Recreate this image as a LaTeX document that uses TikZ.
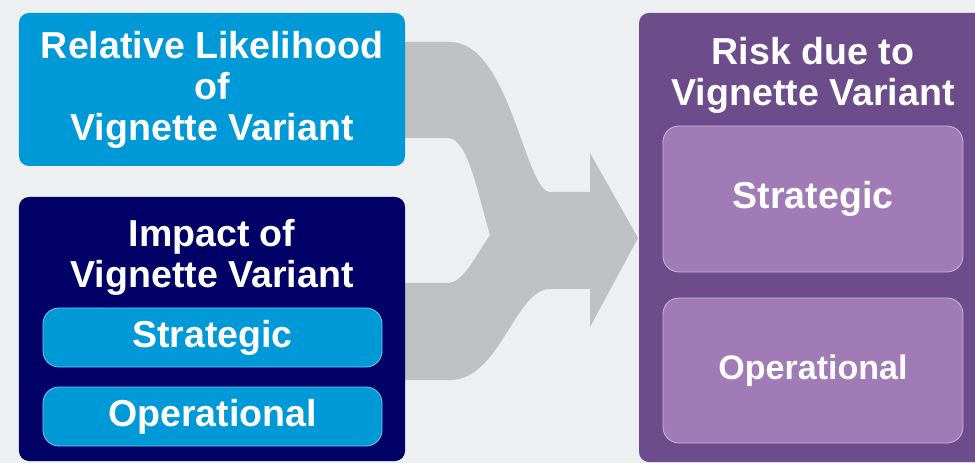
\documentclass[tikz,border=0pt]{standalone}
\usepackage{fontspec}
\setmainfont{Liberation Sans}

\definecolor{pagegray}{HTML}{EEEFF1}
\definecolor{likelyblue}{HTML}{0099D8}
\definecolor{impactnavy}{HTML}{000066}
\definecolor{riskpurple}{HTML}{6C4C8A}
\definecolor{risklilac}{HTML}{A07BB5}
\definecolor{flowgray}{HTML}{BFC0C2}

\begin{document}
\begin{tikzpicture}[x=0.25mm, y=-0.25mm,
        every node/.style={font=\bfseries\fontsize{26.7}{29.2}\selectfont, text=white, align=center},
        bigbox/.style={rounded corners=2.5mm, inner sep=0pt},
        bluebox/.style={fill=likelyblue, draw=likelyblue!55!white, line width=0.6pt, rounded corners=4mm,
            minimum width=84.75mm, minimum height=14.75mm, inner sep=0pt},
        lilacbox/.style={fill=risklilac, draw=risklilac!55!white, line width=0.6pt, rounded corners=4mm,
            minimum width=75mm, inner sep=0pt}]
        % Background
        \fill[pagegray] (0,0) rectangle (975,463);
        \useasboundingbox (0,0) rectangle (975,463);
    
        % Merging arrow
        \fill[flowgray] (400,42) -- (450,42)
            .. controls (510,42) and (525,192) .. (550,192) -- (590,192) -- (590,153)
            -- (638,238) -- (590,327) -- (590,289) -- (550,289)
            .. controls (515,289) and (500,380) .. (450,380) -- (400,380) -- (400,283) -- (447,283)
            .. controls (462,283) and (470,265) .. (490,235)
            .. controls (478,195) and (468,138) .. (448,138) -- (400,138) -- cycle;
    
        % Likelihood
        \node[bigbox, fill=likelyblue, minimum width=96.5mm, minimum height=38.25mm] (likely) at (212,89.5)
            {Relative Likelihood\\of\\Vignette Variant};
    
        % Impact
        \node[bigbox, fill=impactnavy, minimum width=96.5mm, minimum height=66mm] (impact) at (212,329) {};
        \node (impacttitle) at (212,257) {Impact of\\Vignette Variant};
        \node[bluebox] (impactstrat) at (212.5,337.5) {Strategic};
        \node[bluebox] (impactop) at (212.5,416.5) {Operational};
    
        % Risk
        \node[bigbox, fill=riskpurple, minimum width=89mm, minimum height=112.25mm] (risk) at (817,237.5) {};
        \node (risktitle) at (813,75) {Risk due to\\Vignette Variant};
        \node[lilacbox, minimum height=36.5mm] (riskstrat) at (813,199) {Strategic};
        \node[lilacbox, minimum height=36.25mm, font=\bfseries\fontsize{24.2}{26.5}\selectfont] (riskop) at (813,370.5) {Operational};
    \end{tikzpicture}
\end{document}
